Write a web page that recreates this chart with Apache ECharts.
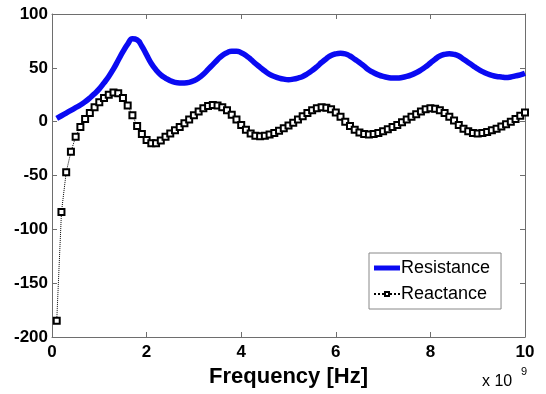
<!DOCTYPE html>
<html>
<head>
<meta charset="utf-8">
<script src="https://cdn.jsdelivr.net/npm/echarts@6/dist/echarts.min.js"></script>
<style>
  html, body { margin: 0; padding: 0; background: #fff; }
  #chart { width: 546px; height: 394px; }
</style>
</head>
<body>
<div id="chart"></div>
<script>
  // frequency grid, in units of 1e9 Hz
  const freq = [
    0.1, 0.2, 0.3, 0.4, 0.5, 0.6, 0.7, 0.8, 0.9, 1.0,
    1.1, 1.2, 1.3, 1.4, 1.5, 1.6, 1.7, 1.8, 1.9, 2.0,
    2.1, 2.2, 2.3, 2.4, 2.5, 2.6, 2.7, 2.8, 2.9, 3.0,
    3.1, 3.2, 3.3, 3.4, 3.5, 3.6, 3.7, 3.8, 3.9, 4.0,
    4.1, 4.2, 4.3, 4.4, 4.5, 4.6, 4.7, 4.8, 4.9, 5.0,
    5.1, 5.2, 5.3, 5.4, 5.5, 5.6, 5.7, 5.8, 5.9, 6.0,
    6.1, 6.2, 6.3, 6.4, 6.5, 6.6, 6.7, 6.8, 6.9, 7.0,
    7.1, 7.2, 7.3, 7.4, 7.5, 7.6, 7.7, 7.8, 7.9, 8.0,
    8.1, 8.2, 8.3, 8.4, 8.5, 8.6, 8.7, 8.8, 8.9, 9.0,
    9.1, 9.2, 9.3, 9.4, 9.5, 9.6, 9.7, 9.8, 9.9, 10.0
  ]

  const resistance = [
    3, 5.5, 8, 10.5, 13, 15.5, 18.5, 22, 26, 30.5,
    36, 42, 49, 57, 65, 72, 77, 76, 70, 62,
    54, 48, 43.5, 40.5, 38, 36.5, 36, 36, 36.5, 38,
    40.5, 44, 48.5, 53, 57.5, 61.5, 64, 65.5, 65.5, 64,
    61.5, 58, 54, 50.5, 47, 44, 42, 40.5, 39.5, 39,
    39.5, 40.5, 42, 44.5, 47.5, 51, 55, 58.5, 61.5, 63,
    63.5, 63, 61, 58, 55, 51.5, 48, 45.5, 43.5, 42,
    41, 40.5, 40.5, 41, 42, 43.5, 45.5, 48, 51, 54.5,
    58, 61, 62.5, 63, 62.5, 61, 58, 55, 52, 49,
    46.5, 44.5, 43, 42, 41.5, 41, 41.5, 42.5, 43.5, 45
  ]

  const reactance = [
    -185, -84, -47, -28, -14, -5, 2.5, 8, 13.5, 18,
    22, 25, 27, 26.5, 22, 15, 6, -4, -11.5, -17,
    -20, -20, -17.5, -14, -11, -8, -5, -1.5, 2, 6,
    9.5, 12.5, 14.5, 15.5, 15, 13.5, 10.5, 6.5, 2, -3,
    -7.5, -11, -13, -13.5, -13, -12, -10.5, -8.5, -6, -3.5,
    -1, 2, 5, 8, 10.5, 12.5, 13.5, 13, 11.5, 8.5,
    4.5, 0, -4, -7.5, -10, -11.5, -12, -11.5, -10.5, -9,
    -7, -5, -3, -0.5, 2, 4.5, 7, 9.5, 11.5, 12.5,
    12, 10.5, 8, 4.5, 1, -3, -6.5, -9, -10.5, -11,
    -10.5, -9.5, -8, -6.5, -4.5, -2.5, 0, 2.5, 5.5, 8.5
  ]

  const xTicks = { min: 0, max: 10, interval: 2 }
  const yTicks = { min: -200, max: 100, interval: 50 }

  const font = '"Liberation Sans", Arial, sans-serif'
  const boxColor = '#6e6e6e'
  const blue = '#0a0af2'

  const pairs = (ys) => freq.map((f, i) => [f, ys[i]])

  const chart = echarts.init(document.getElementById('chart'), null, { renderer: 'canvas' })

  const tickLabel = {
    color: '#000',
    fontFamily: font,
    fontSize: 17,
    fontWeight: 'bold'
  }

  const option = {
    animation: false,
    backgroundColor: '#fff',
    grid: {
      left: 52,
      right: 21,
      top: 14,
      bottom: 57,
      outerBoundsMode: 'none'
    },
    legend: {
      orient: 'vertical',
      left: 369,
      top: 253,
      padding: [6, 11, 6, 4],
      itemGap: 8,
      itemWidth: 26,
      itemHeight: 5,
      backgroundColor: '#fff',
      borderColor: '#888',
      borderWidth: 1,
      borderRadius: 0,
      textStyle: {
        color: '#000',
        fontFamily: font,
        fontSize: 18,
        padding: [0, 0, 0, -4]
      },
      data: [
        { name: 'Resistance', icon: 'rect', itemStyle: { color: blue } },
        { name: 'Reactance' }
      ]
    },
    xAxis: [{
      type: 'value',
      min: xTicks.min,
      max: xTicks.max,
      interval: xTicks.interval,
      name: 'Frequency [Hz]',
      nameLocation: 'middle',
      nameGap: 21,
      nameTextStyle: {
        color: '#000',
        fontFamily: font,
        fontSize: 22,
        fontWeight: 'bold',
        verticalAlign: 'top'
      },
      axisLine: { onZero: false, lineStyle: { color: boxColor, width: 1 } },
      axisTick: { inside: true, length: 5, lineStyle: { color: boxColor } },
      axisLabel: { ...tickLabel, margin: 7 },
      splitLine: { show: false }
    }, {
      type: 'value',
      position: 'top',
      min: xTicks.min,
      max: xTicks.max,
      interval: xTicks.interval,
      axisLine: { onZero: false, lineStyle: { color: boxColor, width: 1 } },
      axisTick: { inside: true, length: 5, lineStyle: { color: boxColor } },
      axisLabel: { show: false },
      splitLine: { show: false }
    }],
    yAxis: [{
      type: 'value',
      min: yTicks.min,
      max: yTicks.max,
      interval: yTicks.interval,
      axisLine: { show: true, onZero: false, lineStyle: { color: boxColor, width: 1 } },
      axisTick: { show: true, inside: true, length: 5, lineStyle: { color: boxColor } },
      axisLabel: { ...tickLabel, margin: 4 },
      splitLine: { show: false }
    }, {
      type: 'value',
      position: 'right',
      min: yTicks.min,
      max: yTicks.max,
      interval: yTicks.interval,
      axisLine: { show: true, onZero: false, lineStyle: { color: boxColor, width: 1 } },
      axisTick: { show: true, inside: true, length: 5, lineStyle: { color: boxColor } },
      axisLabel: { show: false },
      splitLine: { show: false }
    }],
    series: [{
      name: 'Resistance',
      type: 'line',
      data: pairs(resistance),
      smooth: true,
      showSymbol: false,
      symbol: 'none',
      lineStyle: { color: blue, width: 5.5 },
      itemStyle: { color: blue },
      z: 2
    }, {
      name: 'Reactance',
      type: 'line',
      data: pairs(reactance),
      symbol: 'rect',
      symbolSize: 6,
      showAllSymbol: true,
      lineStyle: { color: '#000', width: 1, type: 'dotted' },
      itemStyle: { color: '#fff', borderColor: '#000', borderWidth: 2 },
      z: 3
    }],
    graphic: [{
      type: 'text',
      left: 482,
      top: 374,
      style: {
        text: 'x 10',
        fill: '#000',
        font: '16px ' + font
      }
    }, {
      type: 'text',
      left: 521,
      top: 366,
      style: {
        text: '9',
        fill: '#000',
        font: '11px ' + font
      }
    }]
  }

  chart.setOption(option)
</script>
</body>
</html>
